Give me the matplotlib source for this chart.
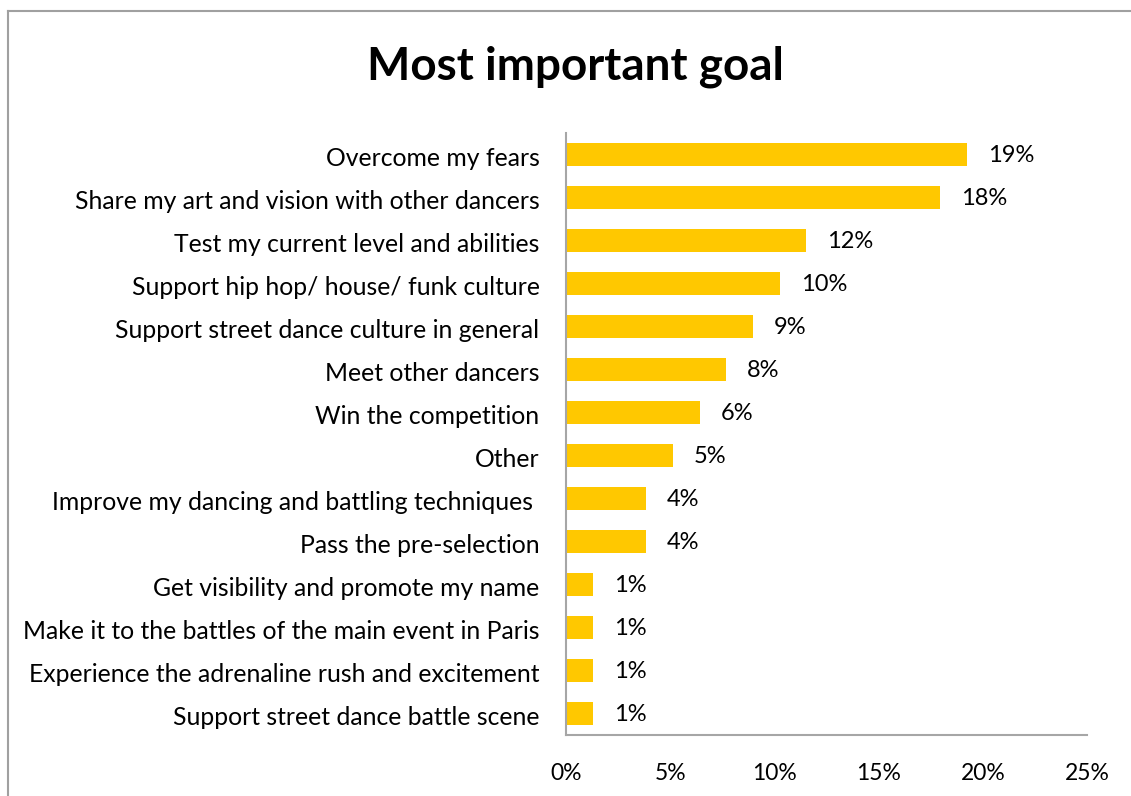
import matplotlib.pyplot as plt
from matplotlib.lines import Line2D
from matplotlib.transforms import ScaledTranslation

goals = [
    "Overcome my fears",
    "Share my art and vision with other dancers",
    "Test my current level and abilities",
    "Support hip hop/ house/ funk culture",
    "Support street dance culture in general",
    "Meet other dancers",
    "Win the competition",
    "Other",
    "Improve my dancing and battling techniques ",
    "Pass the pre-selection",
    "Get visibility and promote my name",
    "Make it to the battles of the main event in Paris",
    "Experience the adrenaline rush and excitement",
    "Support street dance battle scene",
]
counts = [15, 14, 9, 8, 7, 6, 5, 4, 3, 3, 1, 1, 1, 1]
respondents = 78
x_ticks = [0, 5, 10, 15, 20, 25]

plt.rcParams['font.family'] = ['Lato', 'DejaVu Sans']

W, H = 1131, 796
fig = plt.figure(figsize=(W / 100, H / 100), dpi=100)
ax = fig.add_axes([566 / W, 1 - 735 / H, (1087 - 566) / W, (735 - 133) / H])

shares = [c / respondents * 100 for c in counts]
pos = list(range(len(goals)))
ax.barh(pos, shares, height=0.53, color='#FFC800')

for y, s in zip(pos, shares):
    ax.annotate(f'{s:.0f}%', xy=(s, y), xytext=(15, -1), textcoords='offset points',
                va='center', ha='left', fontsize=17, color='black')

ax.set_xlim(0, 25)
ax.set_ylim(len(goals) - 0.5, -0.5)
ax.set_yticks(pos)
ax.set_yticklabels(goals, fontsize=17.8)
ax.set_xticks(x_ticks)
ax.set_xticklabels([f'{t}%' for t in x_ticks], fontsize=16.5)
ax.tick_params(axis='y', length=0, pad=19)
ax.tick_params(axis='x', length=0, pad=20)

# nudge category labels down a touch so they sit level with the bars
shift = ScaledTranslation(0, -1.5 / 72, fig.dpi_scale_trans)
for lbl in ax.get_yticklabels():
    lbl.set_transform(lbl.get_transform() + shift)

for side in ['top', 'right']:
    ax.spines[side].set_visible(False)
for side in ['left', 'bottom']:
    ax.spines[side].set_color('#A6A6A6')
    ax.spines[side].set_linewidth(1.5)

fig.text(575 / W, 1 - 80 / H, 'Most important goal', ha='center', va='baseline',
         fontsize=33, fontweight='bold')

# outer chart frame (top and left edges only)
fig.add_artist(Line2D([8 / W, 1], [1 - 11 / H, 1 - 11 / H], color='#A0A0A0', lw=1.5,
                      transform=fig.transFigure))
fig.add_artist(Line2D([8 / W, 8 / W], [0, 1 - 11 / H], color='#A0A0A0', lw=1.5,
                      transform=fig.transFigure))

fig.savefig('out.png', dpi=100)
